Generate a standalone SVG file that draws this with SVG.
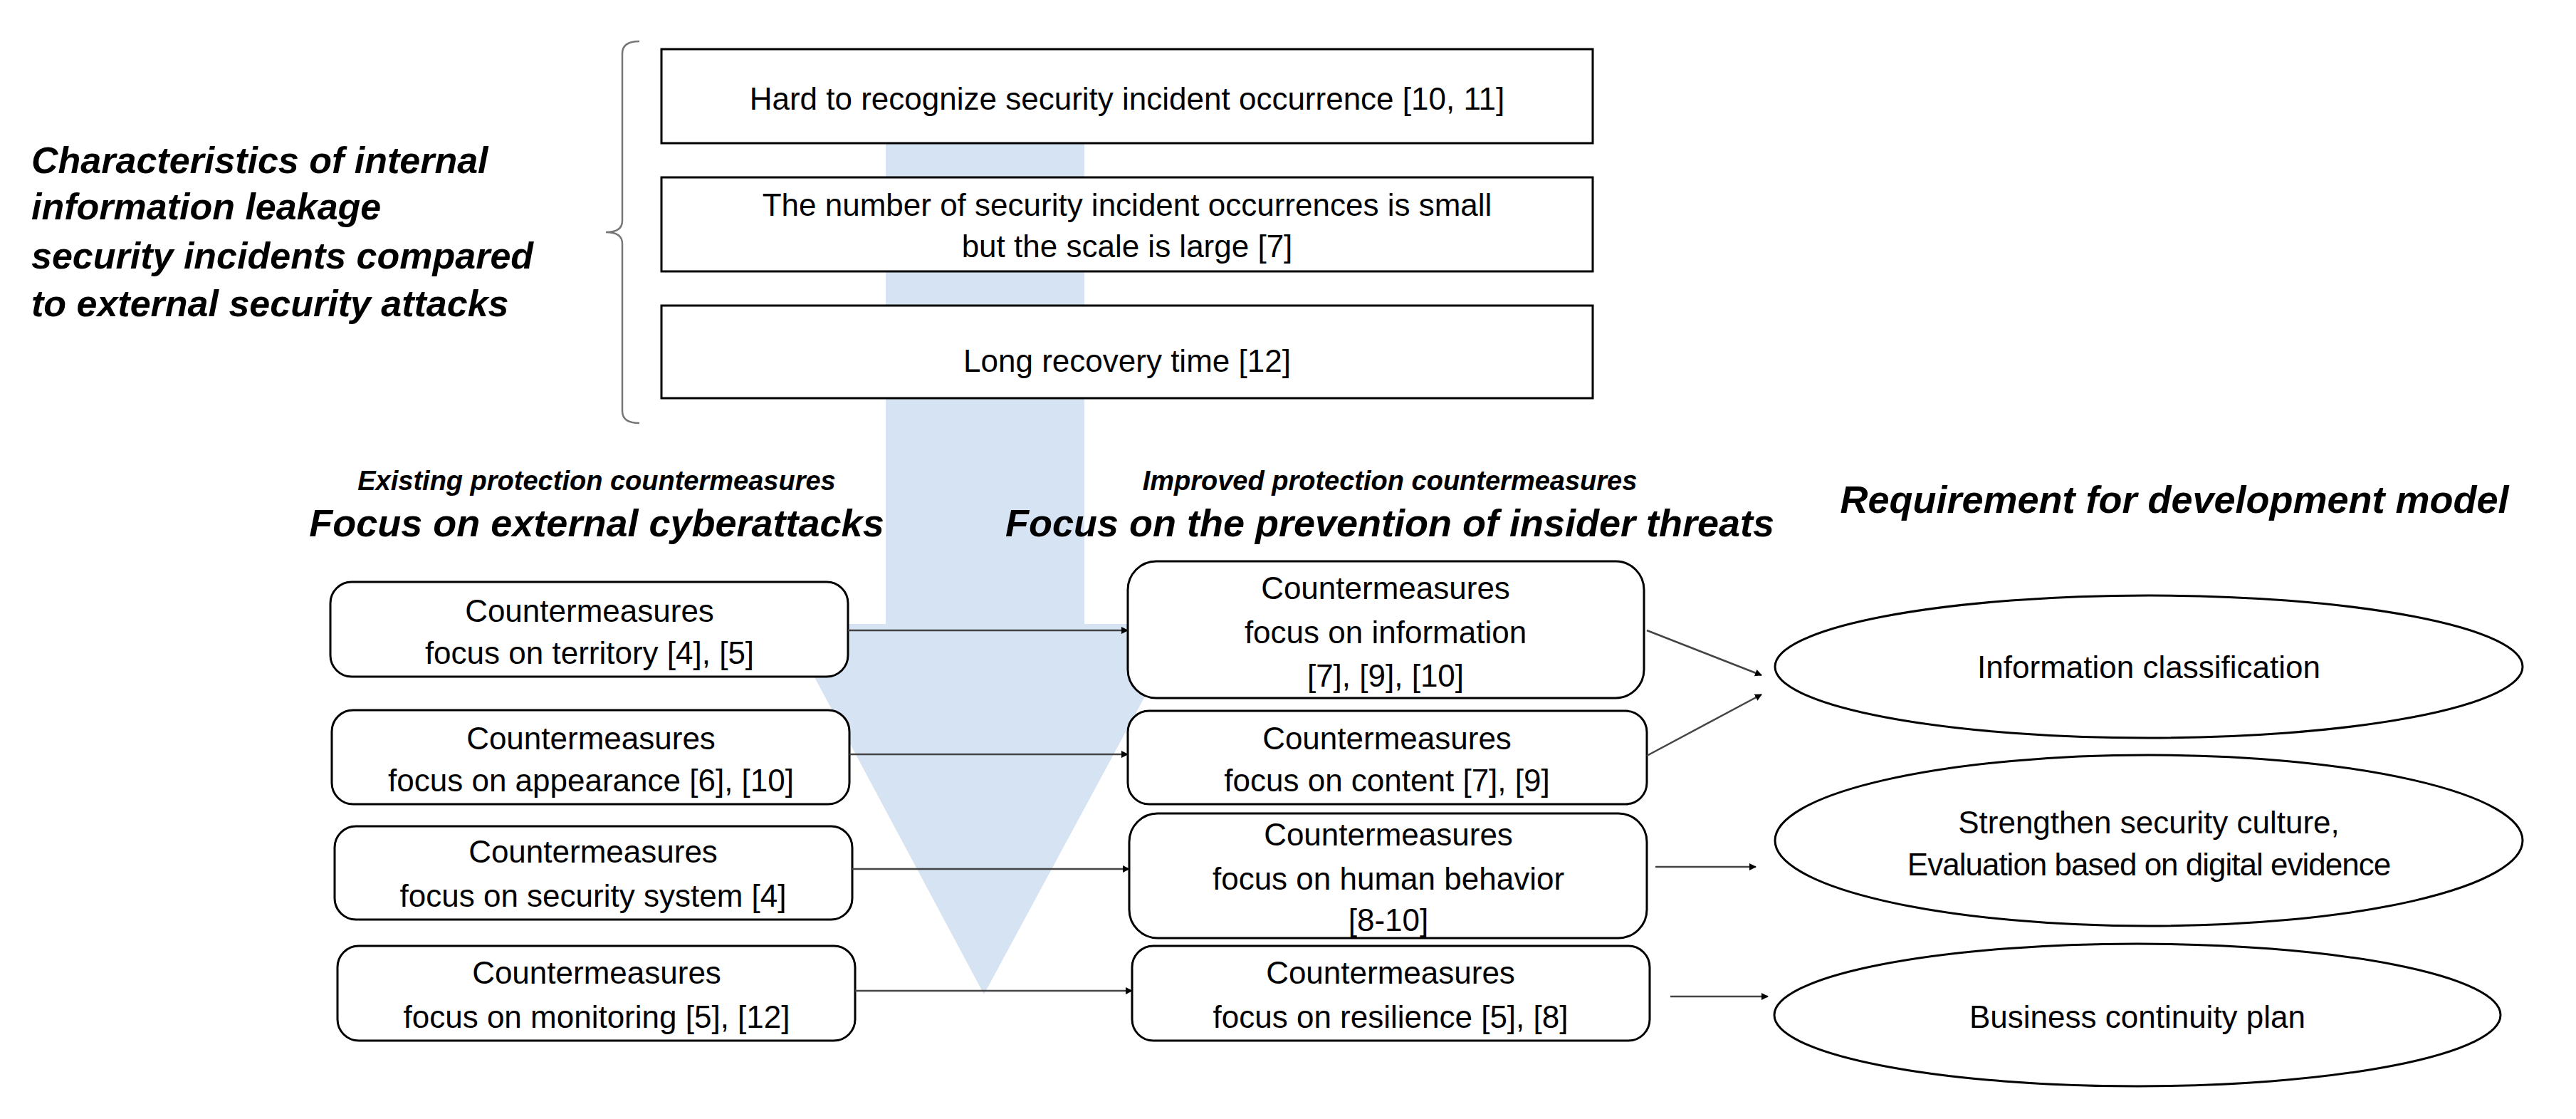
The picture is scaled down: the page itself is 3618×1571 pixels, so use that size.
<svg xmlns="http://www.w3.org/2000/svg" width="3618" height="1571" viewBox="0 0 3618 1571">
<style>
text{font-family:"Liberation Sans",Arial,sans-serif;fill:#000}
.t{font-size:44px;text-anchor:middle}
.h{font-weight:bold;font-style:italic}
.box{fill:#fff;stroke:#000;stroke-width:3}
.c{stroke:#444;stroke-width:2.5;fill:none;marker-end:url(#ah)}
</style>
<defs><marker id="ah" markerWidth="10" markerHeight="10" refX="9" refY="5" orient="auto" markerUnits="userSpaceOnUse"><path d="M0,0 L10,5 L0,10Z" fill="#000"/></marker></defs>
<rect width="3618" height="1571" fill="#fff"/>
<polygon points="1244,100 1523,100 1523,876 1663,876 1382,1396 1104,876 1244,876" fill="#D6E3F3"/>
<g id="title"><text class="h" x="44" y="243" font-size="52">Characteristics of internal</text><text class="h" x="44" y="308" font-size="52">information leakage</text><text class="h" x="44" y="377" font-size="52">security incidents compared</text><text class="h" x="44" y="444" font-size="52">to external security attacks</text></g>
<path id="bracket" d="M898,58 Q874,58 874,75 L874,310 Q874,326 851,326 Q874,326 874,342 L874,577 Q874,594 898,594" fill="none" stroke="#777" stroke-width="2.5"/>
<g id="c1"><rect class="box" x="929" y="69" width="1308" height="132"/><text class="t" x="1583" y="154">Hard to recognize security incident occurrence [10, 11]</text></g>
<g id="c2"><rect class="box" x="929" y="249" width="1308" height="132"/><text class="t" x="1583" y="303">The number of security incident occurrences is small</text><text class="t" x="1583" y="361">but the scale is large [7]</text></g>
<g id="c3"><rect class="box" x="929" y="429" width="1308" height="130"/><text class="t" x="1583" y="522">Long recovery time [12]</text></g>
<g id="hdr1"><text class="h" x="838" y="688" font-size="38" text-anchor="middle">Existing protection countermeasures</text><text class="h" x="838" y="753" font-size="54" text-anchor="middle">Focus on external cyberattacks</text></g>
<g id="hdr2"><text class="h" x="1952" y="688" font-size="38" text-anchor="middle">Improved protection countermeasures</text><text class="h" x="1952" y="753" font-size="54" text-anchor="middle">Focus on the prevention of insider threats</text></g>
<g id="hdr3"><text class="h" x="3054" y="720" font-size="54" text-anchor="middle">Requirement for development model</text></g>
<g id="l1"><rect class="box" x="464" y="817" width="727" height="133" rx="30"/><text class="t" x="828" y="873">Countermeasures</text><text class="t" x="828" y="932">focus on territory [4], [5]</text></g>
<g id="l2"><rect class="box" x="466" y="997" width="727" height="132" rx="30"/><text class="t" x="830" y="1052">Countermeasures</text><text class="t" x="830" y="1111">focus on appearance [6], [10]</text></g>
<g id="l3"><rect class="box" x="470" y="1160" width="727" height="131" rx="30"/><text class="t" x="833" y="1211">Countermeasures</text><text class="t" x="833" y="1273">focus on security system [4]</text></g>
<g id="l4"><rect class="box" x="474" y="1328" width="727" height="133" rx="30"/><text class="t" x="838" y="1381">Countermeasures</text><text class="t" x="838" y="1443">focus on monitoring [5], [12]</text></g>
<g id="r1"><rect class="box" x="1584" y="788" width="725" height="192" rx="40"/><text class="t" x="1946" y="841">Countermeasures</text><text class="t" x="1946" y="903">focus on information</text><text class="t" x="1946" y="964">[7], [9], [10]</text></g>
<g id="r2"><rect class="box" x="1584" y="998" width="729" height="131" rx="30"/><text class="t" x="1948" y="1052">Countermeasures</text><text class="t" x="1948" y="1111">focus on content [7], [9]</text></g>
<g id="r3"><rect class="box" x="1586" y="1142" width="727" height="175" rx="40"/><text class="t" x="1950" y="1187">Countermeasures</text><text class="t" x="1950" y="1249">focus on human behavior</text><text class="t" x="1950" y="1307">[8-10]</text></g>
<g id="r4"><rect class="box" x="1590" y="1328" width="727" height="133" rx="30"/><text class="t" x="1953" y="1381">Countermeasures</text><text class="t" x="1953" y="1443">focus on resilience [5], [8]</text></g>
<g id="e1"><ellipse class="box" cx="3018" cy="936" rx="525" ry="100"/><text class="t" x="3018" y="952">Information classification</text></g>
<g id="e2"><ellipse class="box" cx="3018" cy="1180" rx="525" ry="120"/><text class="t" x="3018" y="1170">Strengthen security culture,</text><text class="t" x="3018" y="1229" font-size="38" letter-spacing="-1">Evaluation based on digital evidence</text></g>
<g id="e3"><ellipse class="box" cx="3002" cy="1425" rx="510" ry="100"/><text class="t" x="3002" y="1443">Business continuity plan</text></g>
<g id="connectors">
<line class="c" x1="1191" y1="885" x2="1584" y2="885"/>
<line class="c" x1="1193" y1="1059" x2="1584" y2="1059"/>
<line class="c" x1="1197" y1="1220" x2="1586" y2="1220"/>
<line class="c" x1="1201" y1="1391" x2="1590" y2="1391"/>
<line class="c" x1="2313" y1="885" x2="2474" y2="948"/>
<line class="c" x1="2313" y1="1061" x2="2474" y2="975"/>
<line class="c" x1="2325" y1="1217" x2="2466" y2="1217"/>
<line class="c" x1="2346" y1="1399" x2="2483" y2="1399"/>
</g>
</svg>
